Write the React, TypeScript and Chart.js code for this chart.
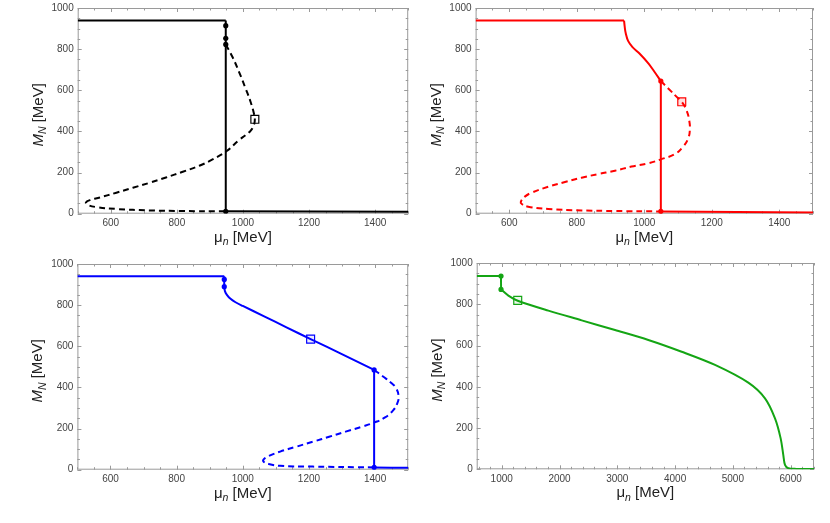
import React, { useEffect, useRef } from "react";
import { Chart, registerables } from "chart.js";
Chart.register(...registerables);

// ---------- Panel 1 (black) ----------
const p1TopMu = [500, 948];
const p1TopM = [939, 939];
const p1JumpMu = [948, 948];
const p1JumpM = [939, 12];
const p1LowMu = [948, 1500];
const p1LowM = [12, 9];
const p1DashMu = [948, 968, 988, 1008, 1023, 1033, 1036, 1033, 1023, 1008, 988, 951, 908, 868, 818, 767, 717, 667, 617, 567, 537, 525, 529, 557, 617, 717, 818, 948];
const p1DashM = [823, 763, 690, 609, 544, 488, 459, 431, 403, 382, 358, 305, 264, 233, 204, 176, 150, 126, 102, 79, 66, 55, 44, 32, 23, 16, 13, 12];
const p1DotMu = [948, 948, 948, 948];
const p1DotM = [914, 853, 823, 12];
const p1SqMu = [1036];
const p1SqM = [459];

// ---------- Panel 2 (red) ----------
const p2TopMu = [500, 940];
const p2TopM = [939, 939];
const p2SolidMu = [940, 942, 945, 952, 965, 985, 1012, 1030, 1049];
const p2SolidM = [939, 908, 877, 840, 810, 780, 731, 690, 645];
const p2JumpMu = [1049, 1049];
const p2JumpM = [645, 11];
const p2LowMu = [1049, 1500];
const p2LowM = [11, 6];
const p2DashMu = [1049, 1071, 1096, 1111, 1125, 1133, 1135, 1130, 1115, 1091, 1049, 1012, 962, 913, 864, 814, 765, 715, 666, 646, 634, 637, 656, 715, 814, 913, 1049];
const p2DashM = [645, 609, 568, 544, 503, 455, 407, 366, 326, 290, 264, 245, 229, 209, 193, 175, 154, 131, 102, 83, 58, 47, 34, 23, 16, 13, 11];
const p2DotMu = [1049, 1049];
const p2DotM = [645, 11];
const p2SqMu = [1111];
const p2SqM = [544];

// ---------- Panel 3 (blue) ----------
const p3TopMu = [500, 944];
const p3TopM = [940, 940];
const p3SolidMu = [944, 944, 946, 952, 962, 978, 1000, 1063, 1132, 1205, 1301, 1397];
const p3SolidM = [940, 890, 868, 850, 832, 814, 796, 747, 692, 635, 561, 485];
const p3JumpMu = [1397, 1397];
const p3JumpM = [485, 11];
const p3LowMu = [1397, 1500];
const p3LowM = [11, 9];
const p3DashMu = [1397, 1425, 1450, 1464, 1471, 1467, 1455, 1430, 1397, 1360, 1311, 1261, 1212, 1162, 1113, 1078, 1063, 1063, 1078, 1113, 1212, 1397];
const p3DashM = [485, 452, 420, 395, 355, 323, 290, 254, 229, 209, 185, 160, 136, 112, 88, 66, 50, 39, 28, 19, 15, 11];
const p3DotMu = [944, 944, 1397, 1397];
const p3DotM = [925, 890, 485, 11];
const p3SqMu = [1205];
const p3SqM = [635];

// ---------- Panel 4 (green) ----------
const p4TopMu = [567, 988];
const p4TopM = [937, 937];
const p4SolidMu = [988, 990, 1000, 1115, 1277, 1807, 2384, 2961, 3537, 4114, 4691, 5267, 5556, 5729, 5827, 5873, 5902, 5960, 6100, 6404];
const p4SolidM = [937, 872, 869, 842, 817, 769, 722, 675, 627, 570, 506, 420, 344, 247, 150, 69, 21, 5, 2, 1];
const p4DotMu = [988, 988];
const p4DotM = [937, 872];
const p4SqMu = [1277];
const p4SqM = [819];

// ---------- Axis ticks ----------
const yMajorTicks = [0, 200, 400, 600, 800, 1000];
const xMajorTicksA = [600, 800, 1000, 1200, 1400];
const xMajorTicksB = [1000, 2000, 3000, 4000, 5000, 6000];

const FONT = '"Liberation Sans", Arial, sans-serif';

type Kind = "solid" | "dash" | "dot" | "square";
type Series = { mu: number[]; m: number[]; kind: Kind; tension?: number };

type PanelProps = {
  left: number;
  top: number;
  width: number;
  height: number;
  pad: { left: number; right: number; top: number; bottom: number };
  xMin: number;
  xMax: number;
  xMajor: number[];
  xMinorStep: number;
  color: string;
  squareFill: string;
  series: Series[];
};

function range(a: number, b: number, step: number) {
  const out: number[] = [];
  for (let v = a; v <= b + 1e-9; v += step) out.push(v);
  return out;
}

type Part = { t: string; italic?: boolean; sub?: boolean };

function drawParts(ctx: CanvasRenderingContext2D, parts: Part[], cx: number, baseline: number, size: number) {
  const fontFor = (p: Part) =>
    `${p.italic ? "italic " : ""}${p.sub ? size * 0.7 : size}px ${FONT}`;
  let total = 0;
  const widths = parts.map((p) => {
    ctx.font = fontFor(p);
    const w = ctx.measureText(p.t).width;
    total += w;
    return w;
  });
  let x = cx - total / 2;
  ctx.textAlign = "left";
  ctx.textBaseline = "alphabetic";
  parts.forEach((p, i) => {
    ctx.font = fontFor(p);
    ctx.fillText(p.t, x, baseline + (p.sub ? size * 0.22 : 0));
    x += widths[i];
  });
}

function Panel(props: PanelProps) {
  const ref = useRef<HTMLCanvasElement>(null);
  useEffect(() => {
    const { color, squareFill, series, xMin, xMax, xMajor, xMinorStep, pad } = props;
    const datasets: any[] = series.map((s) => {
      const data = s.mu.map((x, i) => ({ x, y: s.m[i] }));
      if (s.kind === "dot")
        return {
          data,
          showLine: false,
          pointRadius: 2.6,
          pointBackgroundColor: color,
          pointBorderColor: color,
          pointBorderWidth: 0,
          order: 0,
        };
      if (s.kind === "square")
        return {
          data,
          showLine: false,
          pointStyle: "rect",
          pointRadius: 5.6,
          pointBorderColor: color,
          pointBackgroundColor: squareFill,
          pointBorderWidth: 1.2,
          order: 0,
        };
      return {
        data,
        showLine: true,
        borderColor: color,
        borderWidth: 2,
        borderDash: s.kind === "dash" ? [6, 4] : [],
        pointRadius: 0,
        tension: s.tension ?? 0.4,
        fill: false,
        order: 1,
      };
    });

    const framePlugin = {
      id: "frameTicks",
      beforeDatasetsDraw(chart: any) {
        const { ctx, chartArea: a, scales } = chart;
        const xs = scales.x;
        const ys = scales.y;
        ctx.save();
        ctx.strokeStyle = "#9a9a9a";
        ctx.lineWidth = 1;
        ctx.strokeRect(a.left + 0.5, a.top + 0.5, a.right - a.left - 1, a.bottom - a.top - 1);
        ctx.beginPath();
        const xMinorTicks = range(Math.ceil(xMin / xMinorStep) * xMinorStep, xMax, xMinorStep);
        xMinorTicks.forEach((v) => {
          const isMajor = xMajor.some((m) => Math.abs(m - v) < 1e-6);
          const len = isMajor ? 4 : 2.5;
          const px = Math.round(xs.getPixelForValue(v)) + 0.5;
          ctx.moveTo(px, a.bottom);
          ctx.lineTo(px, a.bottom - len);
          ctx.moveTo(px, a.top);
          ctx.lineTo(px, a.top + len);
        });
        range(0, 1000, 50).forEach((v) => {
          const isMajor = v % 200 === 0;
          const len = isMajor ? 4 : 2.5;
          const py = Math.round(ys.getPixelForValue(v)) + 0.5;
          ctx.moveTo(a.left, py);
          ctx.lineTo(a.left + len, py);
          ctx.moveTo(a.right, py);
          ctx.lineTo(a.right - len, py);
        });
        ctx.stroke();

        ctx.fillStyle = "#444";
        ctx.font = `10px ${FONT}`;
        ctx.textAlign = "right";
        ctx.textBaseline = "middle";
        yMajorTicks.forEach((v) => {
          ctx.fillText(String(v), a.left - 4, ys.getPixelForValue(v));
        });
        ctx.textAlign = "center";
        ctx.textBaseline = "middle";
        xMajor.forEach((v) => {
          ctx.fillText(String(v), xs.getPixelForValue(v), a.bottom + 10);
        });

        ctx.fillStyle = "#222";
        const midX = (a.left + a.right) / 2;
        drawParts(
          ctx,
          [{ t: "\u03bc" }, { t: "n", italic: true, sub: true }, { t: " [MeV]" }],
          midX,
          a.bottom + 28,
          15
        );
        const midY = (a.top + a.bottom) / 2 + 4;
        ctx.save();
        ctx.translate(a.left - 35, midY);
        ctx.rotate(-Math.PI / 2);
        drawParts(
          ctx,
          [{ t: "M", italic: true }, { t: "N", italic: true, sub: true }, { t: " [MeV]" }],
          0,
          0,
          15
        );
        ctx.restore();
        ctx.restore();
      },
    };

    const chart = new Chart(ref.current!, {
      type: "scatter",
      data: { datasets },
      options: {
        animation: false,
        responsive: false,
        devicePixelRatio: 1,
        layout: { padding: pad },
        plugins: { legend: { display: false }, tooltip: { enabled: false } },
        scales: {
          x: { type: "linear", min: xMin, max: xMax, display: false },
          y: { type: "linear", min: 0, max: 1000, display: false },
        },
      },
      plugins: [framePlugin],
    } as any);
    return () => chart.destroy();
  }, []);
  return (
    <canvas
      ref={ref}
      width={props.width}
      height={props.height}
      style={{ position: "absolute", left: props.left, top: props.top, width: props.width, height: props.height }}
    />
  );
}

export default function App() {
  return (
    <div style={{ position: "absolute", left: 0, top: 0, width: 830, height: 523, background: "#fff", overflow: "hidden" }}>
      <Panel
        left={0}
        top={0}
        width={415}
        height={255}
        pad={{ left: 77.7, right: 3, top: 8, bottom: 41.3 }}
        xMin={500}
        xMax={1500}
        xMajor={xMajorTicksA}
        xMinorStep={50}
        color="#000000"
        squareFill="rgba(255,255,255,0)"
        series={[
          { mu: p1TopMu, m: p1TopM, kind: "solid" },
          { mu: p1JumpMu, m: p1JumpM, kind: "solid" },
          { mu: p1LowMu, m: p1LowM, kind: "solid" },
          { mu: p1DashMu, m: p1DashM, kind: "dash", tension: 0.45 },
          { mu: p1DotMu, m: p1DotM, kind: "dot" },
          { mu: p1SqMu, m: p1SqM, kind: "square" },
        ]}
      />
      <Panel
        left={415}
        top={0}
        width={415}
        height={255}
        pad={{ left: 60.6, right: 17, top: 8, bottom: 41.3 }}
        xMin={500}
        xMax={1500}
        xMajor={xMajorTicksA}
        xMinorStep={50}
        color="#ff0000"
        squareFill="rgba(255,0,0,0.12)"
        series={[
          { mu: p2TopMu, m: p2TopM, kind: "solid" },
          { mu: p2SolidMu, m: p2SolidM, kind: "solid" },
          { mu: p2JumpMu, m: p2JumpM, kind: "solid" },
          { mu: p2LowMu, m: p2LowM, kind: "solid" },
          { mu: p2DashMu, m: p2DashM, kind: "dash", tension: 0.45 },
          { mu: p2DotMu, m: p2DotM, kind: "dot" },
          { mu: p2SqMu, m: p2SqM, kind: "square" },
        ]}
      />
      <Panel
        left={0}
        top={255}
        width={415}
        height={268}
        pad={{ left: 77.4, right: 1.3, top: 9, bottom: 53.3 }}
        xMin={500}
        xMax={1500}
        xMajor={xMajorTicksA}
        xMinorStep={50}
        color="#0000ff"
        squareFill="rgba(0,0,255,0.08)"
        series={[
          { mu: p3TopMu, m: p3TopM, kind: "solid" },
          { mu: p3SolidMu, m: p3SolidM, kind: "solid", tension: 0.3 },
          { mu: p3JumpMu, m: p3JumpM, kind: "solid" },
          { mu: p3LowMu, m: p3LowM, kind: "solid" },
          { mu: p3DashMu, m: p3DashM, kind: "dash", tension: 0.45 },
          { mu: p3DotMu, m: p3DotM, kind: "dot" },
          { mu: p3SqMu, m: p3SqM, kind: "square" },
        ]}
      />
      <Panel
        left={415}
        top={255}
        width={415}
        height={268}
        pad={{ left: 61.7, right: 16, top: 8, bottom: 53.7 }}
        xMin={567}
        xMax={6404}
        xMajor={xMajorTicksB}
        xMinorStep={200}
        color="#14a514"
        squareFill="rgba(20,165,20,0.08)"
        series={[
          { mu: p4TopMu, m: p4TopM, kind: "solid" },
          { mu: p4SolidMu, m: p4SolidM, kind: "solid", tension: 0.3 },
          { mu: p4DotMu, m: p4DotM, kind: "dot" },
          { mu: p4SqMu, m: p4SqM, kind: "square" },
        ]}
      />
    </div>
  );
}
